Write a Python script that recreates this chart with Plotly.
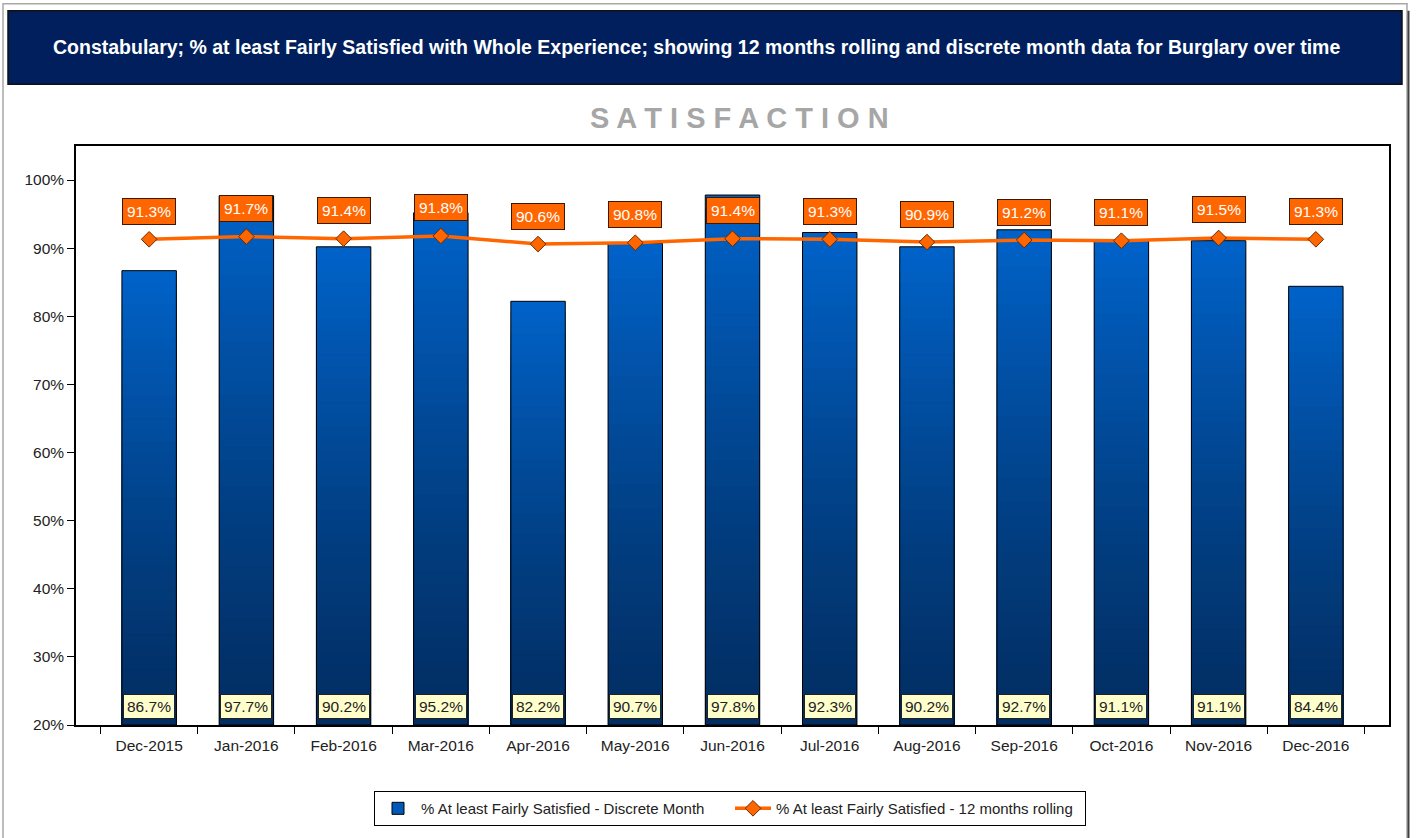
import plotly.graph_objects as go

months = ["Dec-2015", "Jan-2016", "Feb-2016", "Mar-2016", "Apr-2016", "May-2016", "Jun-2016",
          "Jul-2016", "Aug-2016", "Sep-2016", "Oct-2016", "Nov-2016", "Dec-2016"]
discrete = [86.7, 97.7, 90.2, 95.2, 82.2, 90.7, 97.8, 92.3, 90.2, 92.7, 91.1, 91.1, 84.4]
rolling = [91.3, 91.7, 91.4, 91.8, 90.6, 90.8, 91.4, 91.3, 90.9, 91.2, 91.1, 91.5, 91.3]
y_ticks = [20, 30, 40, 50, 60, 70, 80, 90, 100]

BASE = 20
FONT = "Liberation Sans Narrow, Arial Narrow, Liberation Sans, Arial"

W, H = 1416, 838
L, R, T, B = 76, 1389, 146, 728  # plot area in pixels


def px_x(x):
    return (x - L) / (R - L)


def px_y(y):
    return (B - y) / (B - T)


top_rgb = (0, 98, 200)
bot_rgb = (2, 46, 98)

fig = go.Figure()

# gradient bars: overlay of progressively shorter, darker bars
N = 40
for k in range(N):
    frac = (N - k) / N
    t = frac ** 1.3
    c = tuple(int(round(bot_rgb[i] + (top_rgb[i] - bot_rgb[i]) * t)) for i in range(3))
    fig.add_trace(go.Bar(
        x=months, y=[(v - BASE) * frac for v in discrete], base=BASE,
        marker=dict(color="rgb(%d,%d,%d)" % c, line=dict(width=0)),
        width=0.56, showlegend=False, hoverinfo="skip"))

# outline
fig.add_trace(go.Bar(
    x=months, y=[v - BASE for v in discrete], base=BASE,
    marker=dict(color="rgba(0,0,0,0)", line=dict(color="black", width=1)),
    width=0.56, showlegend=False, hoverinfo="skip"))

# legend entry for bars
fig.add_trace(go.Bar(
    x=months, y=[None] * len(months), base=BASE,
    name="% At least Fairly Satisfied - Discrete Month",
    marker=dict(color="#0058B8", line=dict(color="black", width=1)),
    width=0.56, showlegend=True))

fig.add_trace(go.Scatter(
    x=months, y=rolling, mode="lines+markers",
    name="% At least Fairly Satisfied - 12 months rolling",
    line=dict(color="#FF6600", width=3.5),
    marker=dict(symbol="diamond", size=12, color="#FF6600",
                line=dict(color="#6B2A00", width=1))))

annotations = []
for m, v in zip(months, discrete):
    annotations.append(dict(
        x=m, y=BASE, xref="x", yref="y", text="%.1f%%" % v, showarrow=False,
        yanchor="bottom", yshift=6,
        font=dict(family=FONT, size=15.5, color="#222222"),
        bgcolor="#FFFFCC", bordercolor="#222222", borderwidth=1, borderpad=3))
for m, v in zip(months, rolling):
    annotations.append(dict(
        x=m, y=v, xref="x", yref="y", text="%.1f%%" % v, showarrow=False,
        yanchor="middle", yshift=28,
        font=dict(family=FONT, size=15.5, color="white"),
        bgcolor="#FF6600", bordercolor="#3a1a00", borderwidth=1, borderpad=4))

# main title and subtitle
annotations.append(dict(
    x=px_x(696), y=px_y(46), xref="paper", yref="paper",
    text="<b>Constabulary; % at least Fairly Satisfied with Whole Experience; showing 12 months rolling and discrete month data for Burglary over time</b>",
    showarrow=False, xanchor="center", yanchor="middle",
    font=dict(family=FONT, size=19.5, color="white")))
annotations.append(dict(
    x=px_x(739), y=px_y(118), xref="paper", yref="paper",
    text="<b>S A T I S F A C T I O N</b>",
    showarrow=False, xanchor="center", yanchor="middle",
    font=dict(family=FONT, size=29, color="#A6A6A6")))

fig.update_layout(
    width=W, height=H,
    margin=dict(l=L, r=W - R, t=T, b=H - B),
    paper_bgcolor="white", plot_bgcolor="white",
    barmode="overlay", bargap=0.44,
    showlegend=True,
    legend=dict(orientation="h", x=px_x(730), y=px_y(812), xanchor="center", yanchor="middle",
                bordercolor="black", borderwidth=1, bgcolor="white",
                font=dict(family=FONT, size=15, color="#222222"),
                itemwidth=36, entrywidth=304, traceorder="normal"),
    annotations=annotations,
    shapes=[
        dict(type="rect", xref="paper", yref="paper",
             x0=px_x(3), x1=px_x(1407), y0=px_y(850), y1=px_y(3),
             line=dict(color="#A8A8A8", width=1.5), fillcolor="rgba(0,0,0,0)", layer="below"),
        dict(type="line", xref="paper", yref="paper",
             x0=px_x(1408.5), x1=px_x(1408.5), y0=px_y(850), y1=px_y(10),
             line=dict(color="#404040", width=2), layer="below"),
        dict(type="rect", xref="paper", yref="paper",
             x0=px_x(8), x1=px_x(1402), y0=px_y(84), y1=px_y(10),
             line=dict(color="#111111", width=1.5), fillcolor="#001F5C", layer="below"),
    ],
    xaxis=dict(type="category", ticks="outside", tickson="boundaries", ticklen=7,
               tickcolor="black", showline=True, linecolor="black", linewidth=1.5, mirror=True,
               showgrid=False, ticklabelstandoff=6,
               tickfont=dict(family=FONT, size=15.5, color="#222222")),
    yaxis=dict(range=[20, 105], tickvals=y_ticks, ticktext=["%d%%" % t for t in y_ticks],
               ticks="outside", ticklen=7, tickcolor="black",
               showline=True, linecolor="black", linewidth=1.5, mirror=True,
               showgrid=False, zeroline=False,
               tickfont=dict(family=FONT, size=15.5, color="#222222")),
)

fig.write_html("out.html", config={"displayModeBar": False},
               post_script="document.body.style.margin='0px';")
